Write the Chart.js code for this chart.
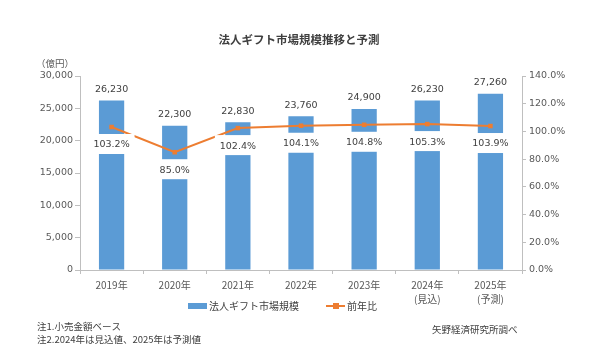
<!DOCTYPE html>
<html>
<head>
<meta charset="utf-8">
<script src="https://cdn.jsdelivr.net/npm/chart.js@4"></script>
<style>
html,body{margin:0;padding:0;background:#fff;}
#wrap{width:600px;height:358px;position:relative;}
</style>
</head>
<body>
<div id="wrap"><canvas id="c" width="600" height="358"></canvas></div>
<script>
const categories = [['2019年'], ['2020年'], ['2021年'], ['2022年'], ['2023年'], ['2024年', '(見込)'], ['2025年', '(予測)']];
const marketSize = [26230, 22300, 22830, 23760, 24900, 26230, 27260];
const yoyRatio = [103.2, 85.0, 102.4, 104.1, 104.8, 105.3, 103.9];
const leftTicks = [0, 5000, 10000, 15000, 20000, 25000, 30000];
const rightTicks = [0, 20, 40, 60, 80, 100, 120, 140];
const titleText = '法人ギフト市場規模推移と予測';
const unitText = '（億円）';
const barLabel = '法人ギフト市場規模';
const lineLabel = '前年比';
const notes = ['注1.小売金額ベース', '注2.2024年は見込値、2025年は予測値'];
const sourceText = '矢野経済研究所調べ';

const BLUE = '#5B9BD5', ORANGE = '#ED7D31', AXIS = '#BFBFBF', TXT = '#404040', TICK = '#595959';
const JP = '"Noto Sans CJK JP", "Noto Sans", sans-serif';
const NUM = '"DejaVu Sans", Verdana, sans-serif';

const labelsPlugin = {
  id: 'labelsPlugin',
  afterDatasetsDraw(chart) {
    const ctx = chart.ctx;
    ctx.save();
    const barMeta = chart.getDatasetMeta(1);
    const lineMeta = chart.getDatasetMeta(0);
    ctx.font = '9.5px ' + NUM;
    ctx.textAlign = 'center';
    ctx.textBaseline = 'middle';
    // value labels above bars
    barMeta.data.forEach((el, i) => {
      ctx.fillStyle = TXT;
      ctx.fillText(marketSize[i].toLocaleString('en-US'), el.x, el.y - 11);
    });
    // percentage labels with white boxes
    lineMeta.data.forEach((el, i) => {
      const t = yoyRatio[i].toFixed(1) + '%';
      ctx.fillStyle = '#fff';
      ctx.fillRect(el.x - 23, el.y + 7, 46, 20);
      ctx.fillStyle = TXT;
      ctx.fillText(t, el.x, el.y + 18);
    });
    ctx.restore();
  },
  afterDraw(chart) {
    const ctx = chart.ctx;
    ctx.save();
    ctx.textBaseline = 'middle';
    // title
    ctx.fillStyle = TXT;
    ctx.font = 'bold 11.5px ' + JP;
    ctx.textAlign = 'center';
    ctx.fillText(titleText, 299, 40);
    // unit
    ctx.font = '9.5px ' + JP;
    ctx.fillStyle = TICK;
    ctx.fillText(unitText, 55, 63);
    // legend
    ctx.fillStyle = BLUE;
    ctx.fillRect(188, 303, 19, 6);
    ctx.fillStyle = TXT;
    ctx.textAlign = 'left';
    ctx.font = '10px ' + JP;
    ctx.fillText(barLabel, 209, 306);
    ctx.strokeStyle = ORANGE;
    ctx.lineWidth = 2;
    ctx.beginPath();
    ctx.moveTo(326, 306); ctx.lineTo(345, 306); ctx.stroke();
    ctx.fillStyle = ORANGE;
    ctx.fillRect(333, 303, 6, 6);
    ctx.fillStyle = TXT;
    ctx.fillText(lineLabel, 347, 306);
    // notes
    ctx.font = '9.5px ' + JP;
    ctx.fillText(notes[0], 37, 326);
    ctx.fillText(notes[1], 37, 339);
    ctx.fillText(sourceText, 432, 329);
    ctx.restore();
  }
};

new Chart(document.getElementById('c'), {
  type: 'bar',
  data: {
    labels: categories,
    datasets: [
      {
        type: 'line', label: lineLabel, data: yoyRatio, yAxisID: 'y1', order: 0,
        borderColor: ORANGE, backgroundColor: ORANGE, borderWidth: 2,
        pointStyle: 'rect', pointRadius: 3.2, pointBackgroundColor: ORANGE, pointBorderWidth: 0,
        tension: 0
      },
      {
        type: 'bar', label: barLabel, data: marketSize, yAxisID: 'y', order: 1,
        backgroundColor: BLUE, categoryPercentage: 1, barPercentage: 0.4
      }
    ]
  },
  options: {
    responsive: false,
    animation: false,
    devicePixelRatio: 1,
    layout: { padding: { top: 76, bottom: 0, left: 0, right: 0 } },
    plugins: { legend: { display: false }, title: { display: false }, tooltip: { enabled: false } },
    scales: {
      x: {
        grid: { offset: true, drawOnChartArea: false, color: AXIS, tickLength: 4 },
        border: { color: AXIS },
        ticks: { color: TICK, font: { family: JP, size: 10, lineHeight: 1.4 }, padding: 4, maxRotation: 0 },
        afterFit(s) { s.height = 88; }
      },
      y: {
        position: 'left', min: 0, max: 30000,
        afterBuildTicks(s) { s.ticks = leftTicks.map(v => ({ value: v })); },
        grid: { drawOnChartArea: false, color: AXIS, tickLength: 5 },
        border: { color: AXIS },
        ticks: { color: TICK, font: { family: NUM, size: 9.5 }, padding: 2, callback: v => v.toLocaleString('en-US') },
        afterFit(s) { s.width = 80; }
      },
      y1: {
        position: 'right', min: 0, max: 140,
        afterBuildTicks(s) { s.ticks = rightTicks.map(v => ({ value: v })); },
        grid: { drawOnChartArea: false, color: AXIS, tickLength: 4 },
        border: { color: AXIS },
        ticks: { color: TICK, font: { family: NUM, size: 9.5 }, padding: 3, callback: v => v.toFixed(1) + '%' },
        afterFit(s) { s.width = 78; }
      }
    }
  },
  plugins: [labelsPlugin]
});
</script>
</body>
</html>
